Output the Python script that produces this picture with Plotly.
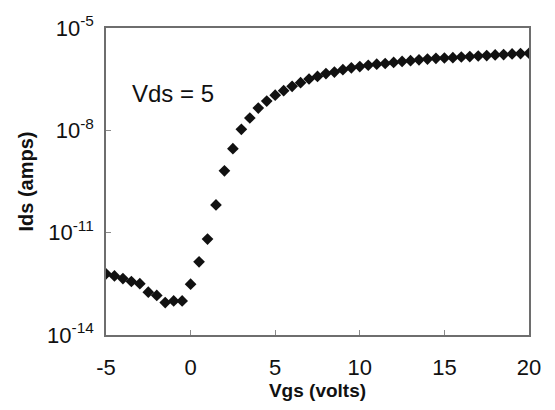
import plotly.graph_objects as go

vgs = [-5 + 0.5 * i for i in range(51)]
ids = [6.2e-13, 5.4e-13, 4.5e-13, 3.7e-13, 3.2e-13, 1.8e-13, 1.45e-13, 8.9e-14, 1.0e-13, 1.0e-13,
       3.1e-13, 1.4e-12, 6.5e-12, 6.5e-11, 6.5e-10, 2.9e-9, 1.07e-8, 2.3e-8, 4.5e-8, 7.2e-8,
       1.07e-7, 1.45e-7, 1.95e-7, 2.5e-7, 3.2e-7, 3.8e-7, 4.6e-7, 5.1e-7, 6.0e-7, 6.8e-7,
       7.4e-7, 8.1e-7, 8.7e-7, 9.1e-7, 9.8e-7, 1.05e-6, 1.10e-6, 1.17e-6, 1.23e-6, 1.29e-6,
       1.32e-6, 1.35e-6, 1.41e-6, 1.45e-6, 1.51e-6, 1.55e-6, 1.62e-6, 1.66e-6, 1.74e-6, 1.78e-6,
       1.82e-6]
x_ticks = [-5, 0, 5, 10, 15, 20]
y_tickvals = [1e-14, 1e-11, 1e-8, 1e-5]
y_ticktext = ["10<sup>-14</sup>", "10<sup>-11</sup>", "10<sup>-8</sup>", "10<sup>-5</sup>"]
annotation_text = "Vds = 5"

FONT = "Liberation Sans, Arial, sans-serif"

fig = go.Figure()
fig.add_trace(go.Scatter(
    x=vgs, y=ids, mode="markers",
    marker=dict(symbol="diamond", size=9, color="#111111", line=dict(width=0)),
    showlegend=False,
))

axis_common = dict(
    showgrid=False, zeroline=False, showline=True, mirror=True,
    linecolor="#6e6e6e", linewidth=1.5,
    ticks="inside", ticklen=5, tickcolor="#8a8a8a", tickwidth=1,
)

fig.update_xaxes(
    range=[-5, 20], tickvals=x_ticks, ticktext=[str(v) for v in x_ticks],
    tickfont=dict(family=FONT, size=22, color="#111111"),
    ticklabelstandoff=12,
    title=dict(text="<b>Vgs (volts)</b>", font=dict(family=FONT, size=19, color="#111111"), standoff=4),
    **axis_common,
)
fig.update_yaxes(
    type="log", range=[-14, -5], tickvals=y_tickvals, ticktext=y_ticktext,
    tickfont=dict(family=FONT, size=22, color="#111111"),
    ticklabelstandoff=6,
    title=dict(text="<b>Ids (amps)</b>", font=dict(family=FONT, size=20, color="#111111"), standoff=8),
    **axis_common,
)

fig.add_annotation(
    x=-1.05, y=-6.91, xref="x", yref="y", text=annotation_text, showarrow=False,
    font=dict(family=FONT, size=24, color="#111111"), xanchor="center", yanchor="middle",
)

fig.update_layout(
    width=555, height=410,
    margin=dict(l=106, r=26, t=20, b=75),
    paper_bgcolor="white", plot_bgcolor="white",
)

fig.write_html("out.html")
